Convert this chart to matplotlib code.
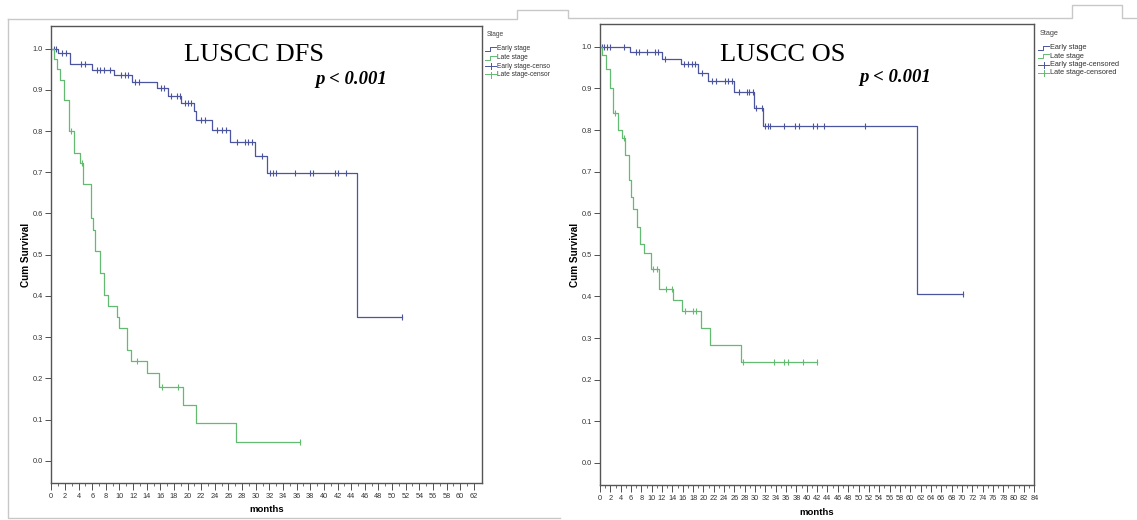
import numpy as np
import matplotlib.pyplot as plt
from matplotlib.lines import Line2D

W, H = 1137, 520

# ---- DFS (left) ----
dfs_early_t = [0, 1.0, 2.7, 5.9, 9.2, 11.9, 15.5, 17.1, 19.1, 20.9, 21.3, 23.6, 26.2, 29.9, 31.7, 44.8, 51.4]
dfs_early_s = [1.0, 0.989, 0.963, 0.949, 0.935, 0.920, 0.905, 0.886, 0.867, 0.848, 0.826, 0.802, 0.773,
               0.739, 0.698, 0.350, 0.350]
dfs_early_c = [0.4, 0.7, 1.6, 2.1, 4.4, 4.9, 6.7, 7.2, 7.7, 8.6, 10.3, 10.8, 11.3, 12.3, 12.8, 16.1, 16.6,
               17.6, 18.4, 18.9, 19.6, 20.1, 20.5, 21.9, 22.6, 24.3, 25.0, 25.7, 27.2, 28.4, 28.9, 29.4,
               30.9, 32.1, 32.6, 33.0, 35.7, 37.9, 38.4, 41.6, 42.1, 43.3, 51.4]

dfs_late_t = [0, 0.4, 0.9, 1.3, 1.85, 2.6, 3.4, 4.2, 4.7, 5.77, 6.16, 6.4, 7.14, 7.78, 8.36, 9.68, 9.93,
              11.15, 11.69, 14.1, 15.8, 19.35, 21.2, 27.1, 36.5]
dfs_late_s = [1.0, 0.975, 0.95, 0.925, 0.876, 0.80, 0.748, 0.722, 0.672, 0.589, 0.56, 0.508, 0.456, 0.403,
              0.375, 0.348, 0.322, 0.268, 0.241, 0.213, 0.18, 0.136, 0.0915, 0.045, 0.045]
dfs_late_c = [2.9, 4.5, 12.6, 16.3, 18.6, 36.5]

dfs_xticks = list(range(0, 63, 2))

# ---- OS (right) ----
os_early_t = [0, 5.8, 11.9, 15.7, 19.0, 20.8, 26.0, 29.85, 31.6, 61.4, 70.2]
os_early_s = [1.0, 0.9865, 0.972, 0.958, 0.9375, 0.9175, 0.892, 0.852, 0.809, 0.405, 0.405]
os_early_c = [0.3, 0.8, 1.3, 1.9, 4.7, 6.9, 7.5, 9.0, 10.6, 11.3, 12.6, 16.3, 17.1, 17.7, 18.4, 19.8,
              21.6, 22.4, 24.2, 24.8, 25.5, 26.9, 28.4, 28.8, 29.5, 30.2, 31.3, 31.9, 32.4, 32.9, 35.6,
              37.7, 38.5, 41.2, 42.0, 43.4, 51.3, 70.2]

os_late_t = [0, 0.3, 1.14, 1.9, 2.6, 3.46, 4.2, 4.87, 5.57, 6.0, 6.3, 7.1, 7.74, 8.5, 9.86, 11.4, 14.2,
             15.9, 19.5, 21.2, 27.2, 41.9]
os_late_s = [1.0, 0.98, 0.948, 0.90, 0.84, 0.80, 0.78, 0.74, 0.68, 0.64, 0.61, 0.567, 0.527, 0.505, 0.465,
             0.419, 0.391, 0.365, 0.3245, 0.283, 0.242, 0.242]
os_late_c = [2.95, 4.6, 10.3, 11.0, 12.7, 13.9, 16.4, 18.0, 18.5, 27.6, 33.6, 35.6, 36.4, 39.3, 41.9]

os_xticks = list(range(0, 85, 2))

yticks = [0.0, 0.1, 0.2, 0.3, 0.4, 0.5, 0.6, 0.7, 0.8, 0.9, 1.0]

BLUE = '#4a549f'
GREEN = '#62bb70'
GREY = '#555555'


def px(x, y):
    return x / W, 1 - y / H


def level_at(t_ev, s_ev, t_c):
    idx = np.searchsorted(t_ev, t_c, side='right') - 1
    return np.array(s_ev)[idx]


def draw_km(ax, t, s, c, color):
    ax.step(t, s, where='post', color=color, lw=0.9)
    ax.plot(c, level_at(t, s, c), ls='none', marker='|', ms=4, mew=0.8, color=color)


def setup(ax, xticks, xright):
    ax.set_xlim(0, xright)
    ax.set_ylim(-0.054, 1.055)
    ax.set_xticks(xticks)
    ax.set_xticklabels([str(v) for v in xticks])
    ax.set_xticks([v + 1 for v in xticks[:-1]], minor=True)
    ax.set_yticks(yticks)
    ax.set_yticklabels([f'{v:.1f}' for v in yticks])
    ax.tick_params(which='major', labelsize=5.3, colors='#333333', length=4, width=0.6, pad=2)
    ax.tick_params(which='minor', length=2.5, width=0.5, colors='#333333')
    ax.tick_params(axis='x', which='major', length=5)
    for sp in ax.spines.values():
        sp.set_color(GREY)
        sp.set_linewidth(1.0)
    ax.set_xlabel('months', fontsize=6.8, fontweight='bold', labelpad=4)
    ax.set_ylabel('Cum Survival', fontsize=7.2, fontweight='bold', labelpad=1)


def legend(fig, x0, y0, labels, fs):
    fig.text(*px(x0 + 2, y0 - 14), 'Stage', fontsize=fs, color='#444444', va='center')
    rows = [y0, y0 + 8.5, y0 + 17, y0 + 25.5]
    cols = [BLUE, GREEN, BLUE, GREEN]
    for i, (yy, col, lab) in enumerate(zip(rows, cols, labels)):
        if i < 2:
            xs = [x0, x0 + 5, x0 + 5, x0 + 11]
            ys = [yy + 2, yy + 2, yy - 2, yy - 2]
            fig.add_artist(Line2D([px(a, 0)[0] for a in xs], [px(0, b)[1] for b in ys],
                                  color=col, lw=0.7))
        else:
            fig.add_artist(Line2D([px(x0, 0)[0], px(x0 + 11, 0)[0]], [px(0, yy)[1]] * 2, color=col, lw=0.7))
            fig.add_artist(Line2D([px(x0 + 5.5, 0)[0]] * 2, [px(0, yy - 3)[1], px(0, yy + 3)[1]],
                                  color=col, lw=0.7))
        fig.text(*px(x0 + 12, yy), lab, fontsize=fs, color='#333333', va='center')


plt.rcParams['font.family'] = ['Liberation Sans', 'DejaVu Sans']

fig = plt.figure(figsize=(W / 100, H / 100), dpi=100)
fig.patch.set_facecolor('white')

ax1 = fig.add_axes([51.3 / W, 1 - 483 / H, (482 - 51.3) / W, (483 - 26) / H])
draw_km(ax1, dfs_early_t, dfs_early_s, dfs_early_c, BLUE)
draw_km(ax1, dfs_late_t, dfs_late_s, dfs_late_c, GREEN)
setup(ax1, dfs_xticks, 63.2)

ax2 = fig.add_axes([600 / W, 1 - 485.3 / H, (1034.3 - 600) / W, (485.3 - 24) / H])
draw_km(ax2, os_early_t, os_early_s, os_early_c, BLUE)
draw_km(ax2, os_late_t, os_late_s, os_late_c, GREEN)
setup(ax2, os_xticks, 84)

# titles and p values
fig.text(*px(254.5, 61), 'LUSCC DFS', fontsize=19, family='Liberation Serif', ha='center', va='baseline')
fig.text(*px(782.5, 60.7), 'LUSCC OS', fontsize=19, family='Liberation Serif', ha='center', va='baseline')
fig.text(*px(351.7, 84), 'p < 0.001', fontsize=13.5, family='Liberation Serif', style='italic',
         weight='bold', ha='center', va='baseline')
fig.text(*px(895, 81.7), 'p < 0.001', fontsize=13.5, family='Liberation Serif', style='italic',
         weight='bold', ha='center', va='baseline')

legend(fig, 485, 49, ['Early stage', 'Late stage', 'Early stage-censo', 'Late stage-censor'], 4.8)
legend(fig, 1038, 47.5, ['Early stage', 'Late stage', 'Early stage-censored', 'Late stage-censored'], 5.3)

# light panel frames
frame = '#c8c8c8'
fx = [8, 517, 517, 568, 568, 1072, 1072, 1122, 1122, 1137]
fy = [19, 19, 10, 10, 18, 18, 5, 5, 18, 18]
fig.add_artist(Line2D([a / W for a in fx], [1 - b / H for b in fy], color=frame, lw=1))
fig.add_artist(Line2D([8 / W, 8 / W, 560 / W], [1 - 19 / H, 1 - 518 / H, 1 - 518 / H], color=frame, lw=1))

fig.savefig('out.png', dpi=100)
